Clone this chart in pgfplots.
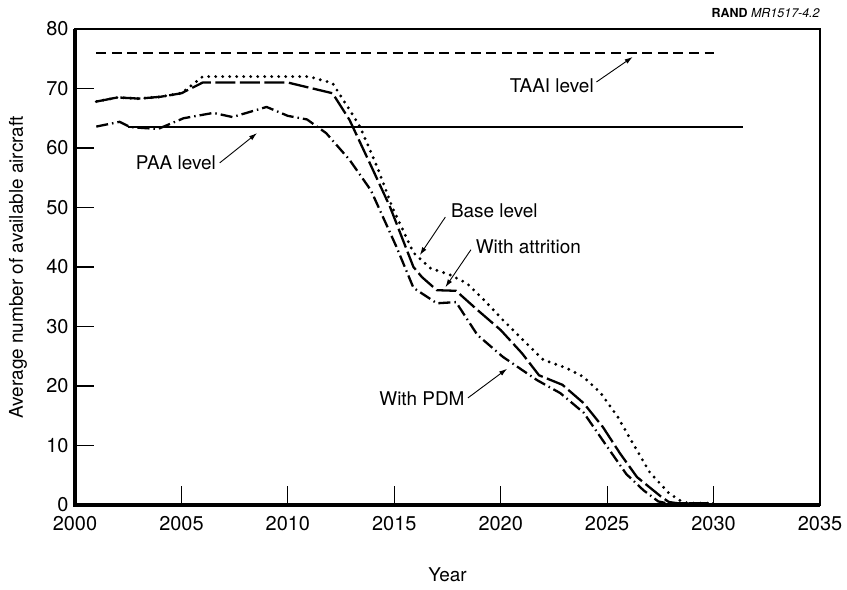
\documentclass[border=0pt]{standalone}
\usepackage{pgfplots}
\pgfplotsset{compat=1.18}
\usepackage{fontspec}
\setmainfont{TeX Gyre Heros}
\usetikzlibrary{arrows.meta}
\tikzset{
    annot/.style={font=\fontsize{19}{23}\selectfont, inner sep=0pt},
    arr/.style={-{Latex[length=8bp,width=5bp]}, line width=0.9bp},
}

\begin{document}
\begin{tikzpicture}
\useasboundingbox (-75bp,-85bp) rectangle (772bp,505bp);
\begin{axis}[
    name=ax,
    at={(0,0)}, anchor=south west,
    scale only axis, width=745bp, height=476bp,
    xmin=2000, xmax=2035, ymin=0, ymax=80,
    xtick={2000,2005,...,2035}, ytick={0,10,...,80},
    xtick pos=bottom, ytick pos=left,
    tick align=inside,
    major tick length=19bp,
    major tick style={black, line width=1.1bp},
    axis line style={line width=1.1bp},
    /pgf/number format/assume math mode=true,
    /pgf/number format/1000 sep={},
    ticklabel style={font=\fontsize{20}{24}\selectfont},
    yticklabel style={xshift=-3bp},
    xticklabel style={yshift=-8bp},
    xlabel={Year},
    ylabel={Average number of available aircraft},
    every axis x label/.style={at={(axis description cs:0.5,-0.147)}, anchor=center, font=\fontsize{19}{23}\selectfont},
    every axis y label/.style={at={(axis description cs:-0.0765,0.5)}, rotate=90, anchor=center, font=\fontsize{19}{23}\selectfont},
    clip=false,
]
% TAAI level
\addplot[line width=2.2bp, dash pattern=on 10bp off 5.6bp] coordinates {(2001,76) (2030,76)};
% PAA level
\addplot[line width=2bp] coordinates {(2002.5,63.5) (2031.4,63.5)};
% Base level
\addplot[line width=3.2bp, dash pattern=on 0bp off 7bp, line cap=round, line join=round] coordinates {
 (2001,67.8) (2002,68.5) (2003,68.3) (2004,68.6) (2005,69.2) (2006,72.0)
 (2007,72.0) (2008,72.0) (2009,72.0) (2010,72.0) (2011,72.0) (2012.1,70.9)
 (2012.9,66.4) (2013.4,63.5) (2014.2,56.8) (2014.9,50.1) (2015.9,42.4)
 (2016.7,39.8) (2017.6,38.7) (2018.4,37.3) (2019.2,34.5) (2020.1,31.1)
 (2021.2,27.2) (2022,24.4) (2023.1,23.0) (2023.9,21.5) (2024.7,18.8)
 (2025.5,14.8) (2026.2,10.4) (2027,5.5) (2027.9,2.0) (2028.4,0.8)
 (2028.8,0.3) (2030,0.3)
};
% With attrition
\addplot[line width=2.3bp, dash pattern=on 20bp off 4.5bp, line join=round] coordinates {
 (2001,67.8) (2002,68.5) (2003,68.3) (2004,68.6) (2005,69.2) (2006,71.0)
 (2010,71.0) (2012.1,69.2) (2012.9,64.7) (2014,56.3) (2014.8,50.1)
 (2015.9,40.0) (2016.3,38.3) (2017,36.1) (2017.9,36.0) (2018.9,32.8)
 (2020,29.4) (2021,25.5) (2021.8,21.8) (2022.9,20.2) (2023.9,17.1)
 (2024.8,13.1) (2025.6,8.7) (2026.4,4.7) (2027.5,1.5) (2027.9,0.5)
 (2028.3,0.3) (2030,0.3)
};
% With PDM
\addplot[line width=2.3bp, dash pattern=on 12bp off 4bp on 1.5bp off 4bp, line join=round] coordinates {
 (2001,63.6) (2002.1,64.4) (2002.6,63.5) (2003.9,63.2) (2005.1,65.0)
 (2006.5,65.9) (2007.4,65.2) (2009,66.9) (2010,65.4) (2010.9,64.8)
 (2011.8,62.5) (2012.9,58.0) (2013.9,52.9) (2015.1,43.4) (2015.9,36.5)
 (2017,33.9) (2017.9,34.1) (2018.9,28.6) (2020.1,24.9) (2021.7,21.0)
 (2022.8,18.8) (2023.9,15.5) (2025,9.8) (2025.9,5.2) (2026.7,2.5)
 (2027.4,0.6) (2027.8,0.3) (2030,0.3)
};
% heavy left and bottom axis lines
\draw[line width=3.8bp] (rel axis cs:0,1) -- (rel axis cs:0,0) -- (rel axis cs:1,0);
% annotations
\node[annot] at (axis cs:2022.4,70.4) {TAAI level};
\draw[arr] (axis cs:2024.5,71.1) -- (axis cs:2026.2,75.3);
\node[annot] at (axis cs:2004.74,57.5) {PAA level};
\draw[arr] (axis cs:2006.8,57.5) -- (axis cs:2008.55,62.5);
\node[annot] at (axis cs:2019.7,49.4) {Base level};
\draw[arr] (axis cs:2017.4,48.4) -- (axis cs:2016.2,42);
\node[annot] at (axis cs:2021.3,43.4) {With attrition};
\draw[arr] (axis cs:2018.6,42.9) -- (axis cs:2017.4,36.6);
\node[annot] at (axis cs:2016.3,17.8) {With PDM};
\draw[arr] (axis cs:2018.46,18.0) -- (axis cs:2020.3,22.9);
\node[anchor=east, inner sep=0pt, font=\fontsize{12.5}{15}\selectfont] at (axis description cs:1,1.034) {\textbf{RAND} \textit{MR1517-4.2}};
\end{axis}
% inward tick marks on the left and bottom edges
\foreach \i in {1,...,6} {
  \draw[line width=1.1bp] ([xshift=\i*106.4286bp]ax.south west) -- ++(0bp,19bp);
}
\foreach \i in {1,...,7} {
  \draw[line width=1.1bp] ([yshift=\i*59.5bp]ax.south west) -- ++(19bp,0bp);
}
\end{tikzpicture}
\end{document}
